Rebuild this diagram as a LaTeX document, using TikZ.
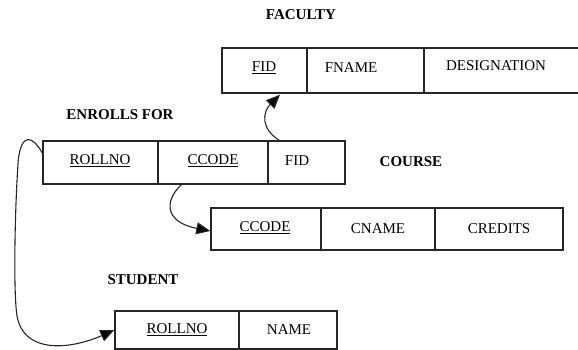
\documentclass[tikz,border=0pt]{standalone}
\usepackage{fontspec}
\setmainfont{Liberation Serif}
\usetikzlibrary{arrows.meta}
\begin{document}
\begin{tikzpicture}[x=1pt,y=-1pt,
  cell/.style={draw=black!85, line width=1.4pt, rectangle, inner sep=0pt, anchor=center},
  ctext/.style={font=\fontsize{15}{18}\selectfont, inner sep=0pt},
  ttl/.style={font=\fontsize{15}{18}\selectfont\bfseries, inner sep=0pt},
  link/.style={line width=1.1pt, draw=black!85, -{Triangle[length=14pt,width=12pt,fill=black]}}]
\useasboundingbox (0,0) rectangle (578,350);
\clip (0,0) rectangle (578,350);
% FACULTY
\node[ttl] (tf) at (301,15) {FACULTY};
\node[cell, minimum width=85pt, minimum height=45pt] (f1) at (264.5,70.5) {};
\node[cell, minimum width=117pt, minimum height=45pt] (f2) at (365.5,70.5) {};
\node[cell, minimum width=166pt, minimum height=45pt] (f3) at (507,70.5) {};
\node[ctext] (f1t) at (264,68) {\underline{FID}};
\node[ctext] (f2t) at (351,68) {FNAME};
\node[ctext] (f3t) at (496,66) {DESIGNATION};
% ENROLLS FOR
\node[ttl] (te) at (120,115) {ENROLLS FOR};
\node[cell, minimum width=115pt, minimum height=43pt] (e1) at (100.5,162.5) {};
\node[cell, minimum width=110pt, minimum height=43pt] (e2) at (213,162.5) {};
\node[cell, minimum width=77pt, minimum height=43pt] (e3) at (306.5,162.5) {};
\node[ctext] (e1t) at (100,161) {\underline{ROLLNO}};
\node[ctext] (e2t) at (213,161) {\underline{CCODE}};
\node[ctext] (e3t) at (297,161) {FID};
% COURSE
\node[ttl] (tc) at (411,162) {COURSE};
\node[cell, minimum width=110pt, minimum height=42pt] (c1) at (266,229) {};
\node[cell, minimum width=114pt, minimum height=42pt] (c2) at (378,229) {};
\node[cell, minimum width=128pt, minimum height=42pt] (c3) at (499,229) {};
\node[ctext] (c1t) at (265,228) {\underline{CCODE}};
\node[ctext] (c2t) at (378,229) {CNAME};
\node[ctext] (c3t) at (499,229) {CREDITS};
% STUDENT
\node[ttl] (ts) at (143,280) {STUDENT};
\node[cell, minimum width=124pt, minimum height=38pt] (s1) at (177,330) {};
\node[cell, minimum width=98pt, minimum height=38pt] (s2) at (288,330) {};
\node[ctext] (s1t) at (177,330) {\underline{ROLLNO}};
\node[ctext] (s2t) at (289,330) {NAME};
% connectors (xshift/yshift are in page units: positive yshift is upward)
\draw[link] ([xshift=12pt]e3.north west) .. controls ([xshift=-6pt,yshift=11pt]e3.north west) and ([xshift=-2.5pt,yshift=-19pt]f1.south) .. ([xshift=15.5pt,yshift=-1pt]f1.south);
\draw[link] ([xshift=24pt]e2.south west) .. controls ([xshift=7pt,yshift=-16pt]e2.south west) and ([xshift=-46pt,yshift=7pt]c1.west) .. ([yshift=-2pt]c1.west);
\draw[link] ([yshift=9.5pt]e1.west) .. controls ([xshift=-10pt,yshift=27.5pt]e1.west) and ([xshift=-21pt,yshift=29.5pt]e1.west) .. ([xshift=-24pt,yshift=2.5pt]e1.west)
  .. controls ([xshift=-27pt,yshift=-37.5pt]e1.west) and ([xshift=-29pt,yshift=-117.5pt]e1.west) .. ([xshift=-26pt,yshift=-147.5pt]e1.west)
  .. controls ([xshift=-23pt,yshift=-192.5pt]e1.west) and ([xshift=27pt,yshift=-187.5pt]e1.west) .. (s1.west);
\end{tikzpicture}
\end{document}
